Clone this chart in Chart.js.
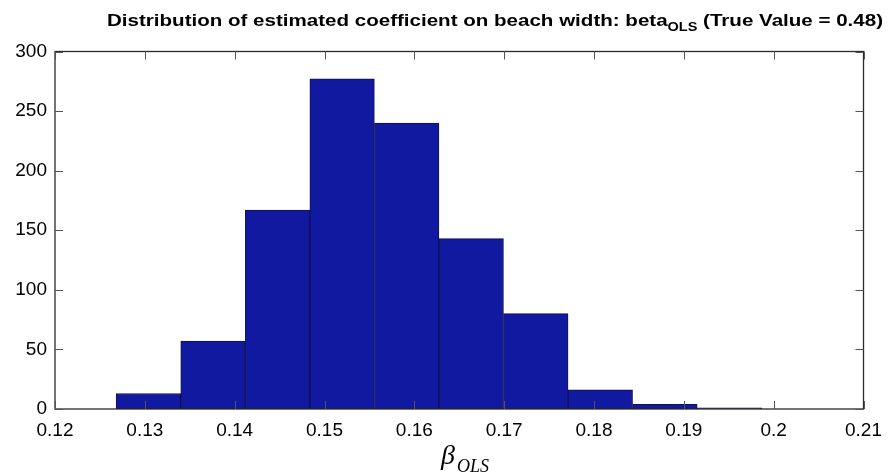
<!DOCTYPE html>
<html>
<head>
<meta charset="utf-8">
<script src="https://cdn.jsdelivr.net/npm/chart.js@4/dist/chart.umd.min.js"></script>
<style>
  html, body { margin: 0; padding: 0; background: #fff; }
  #wrap { width: 892px; height: 476px; }
</style>
</head>
<body>
<div id="wrap"><canvas id="c" width="892" height="476"></canvas></div>
<script>
// ---- data ----
const binCenters = [0.13040, 0.13759, 0.14478, 0.15196, 0.15915, 0.16633, 0.17352, 0.18070, 0.18789, 0.19508];
const counts     = [13, 57, 167, 277, 240, 143, 80, 16, 4, 1];
const xTicks     = [0.12, 0.13, 0.14, 0.15, 0.16, 0.17, 0.18, 0.19, 0.2, 0.21];
const yTicks     = [0, 50, 100, 150, 200, 250, 300];
const titleMain  = 'Distribution of estimated coefficient on beach width: beta';
const titleSub   = 'OLS';
const titleTail  = ' (True Value = 0.48)';
const xLabelMain = 'β';
const xLabelSub  = 'OLS';

const points = binCenters.map((x, i) => ({ x: x, y: counts[i] }));

const frame = {
  id: 'matlabFrame',
  afterDatasetsDraw(chart) {
    const { ctx, chartArea: a, scales } = chart;
    ctx.save();
    ctx.strokeStyle = '#2a2a2a';
    ctx.lineWidth = 1.3;
    ctx.strokeRect(a.left, a.top, a.right - a.left, a.bottom - a.top);
    const tl = 8;
    ctx.lineWidth = 1;
    ctx.strokeStyle = '#555';
    ctx.beginPath();
    xTicks.forEach(v => {
      const px = Math.round(scales.x.getPixelForValue(v)) + 0.5;
      ctx.moveTo(px, a.bottom); ctx.lineTo(px, a.bottom - tl);
      ctx.moveTo(px, a.top); ctx.lineTo(px, a.top + tl);
    });
    yTicks.forEach(v => {
      const py = Math.round(scales.y.getPixelForValue(v)) + 0.5;
      ctx.moveTo(a.left, py); ctx.lineTo(a.left + tl, py);
      ctx.moveTo(a.right, py); ctx.lineTo(a.right - tl, py);
    });
    ctx.stroke();
    ctx.restore();
  },
  afterDraw(chart) {
    const { ctx } = chart;
    ctx.save();
    ctx.fillStyle = '#000';
    ctx.textBaseline = 'alphabetic';
    // title with subscript
    const fMain = 'bold 17px "Liberation Sans", Arial, sans-serif';
    const fSub = 'bold 12px "Liberation Sans", Arial, sans-serif';
    ctx.font = fMain;
    const w1 = ctx.measureText(titleMain).width;
    const w3 = ctx.measureText(titleTail).width;
    ctx.font = fSub;
    const w2 = ctx.measureText(titleSub).width;
    const total = w1 + w2 + w3;
    const targetLeft = 107, targetRight = 883;
    const sx = (targetRight - targetLeft) / total;
    ctx.translate(targetLeft, 0);
    ctx.scale(sx, 1);
    ctx.textAlign = 'left';
    ctx.font = fMain;
    ctx.fillText(titleMain, 0, 26);
    ctx.font = fSub;
    ctx.fillText(titleSub, w1, 31);
    ctx.font = fMain;
    ctx.fillText(titleTail, w1 + w2, 26);
    ctx.setTransform(1, 0, 0, 1, 0, 0);
    ctx.restore();

    // x-axis label β_OLS
    ctx.save();
    ctx.fillStyle = '#000';
    ctx.textBaseline = 'alphabetic';
    ctx.textAlign = 'left';
    const fb = 'italic 28px "Liberation Serif", "Times New Roman", serif';
    const fs = 'italic 18px "Liberation Serif", "Times New Roman", serif';
    ctx.font = fb;
    const bw = ctx.measureText(xLabelMain).width;
    ctx.font = fs;
    const sw = ctx.measureText(xLabelSub).width;
    const start = 441;
    ctx.font = fb;
    ctx.fillText(xLabelMain, start, 464);
    ctx.font = fs;
    ctx.fillText(xLabelSub, start + bw + 2, 472);
    ctx.restore();
  }
};

new Chart(document.getElementById('c'), {
  type: 'bar',
  data: {
    datasets: [{
      data: points,
      backgroundColor: '#1019a0',
      borderColor: '#12124a',
      borderWidth: 1,
      borderSkipped: false,
      barPercentage: 1.0,
      categoryPercentage: 1.0
    }]
  },
  options: {
    responsive: false,
    animation: false,
    devicePixelRatio: 1,
    layout: { padding: { top: 51.5, right: 22.5, left: 0, bottom: 0 } },
    plugins: { legend: { display: false }, tooltip: { enabled: false }, title: { display: false } },
    scales: {
      x: {
        type: 'linear',
        offset: false,
        min: 0.12,
        max: 0.21,
        afterBuildTicks(scale) { scale.ticks = xTicks.map(v => ({ value: v })); },
        afterFit(scale) { scale.height = 67; },
        grid: { display: false, drawTicks: false, offset: false },
        border: { display: false },
        ticks: {
          padding: 10,
          color: '#000',
          maxRotation: 0,
          autoSkip: false,
          font: { family: '"Liberation Sans", Arial, sans-serif', size: 19 },
          callback: v => String(Number(v.toFixed(2)))
        }
      },
      y: {
        min: 0,
        max: 300,
        afterBuildTicks(scale) { scale.ticks = yTicks.map(v => ({ value: v })); },
        afterFit(scale) { scale.width = 55; },
        grid: { display: false, drawTicks: false },
        border: { display: false },
        ticks: {
          padding: 8,
          color: '#000',
          font: { family: '"Liberation Sans", Arial, sans-serif', size: 19 }
        }
      }
    }
  },
  plugins: [frame]
});
</script>
</body>
</html>
